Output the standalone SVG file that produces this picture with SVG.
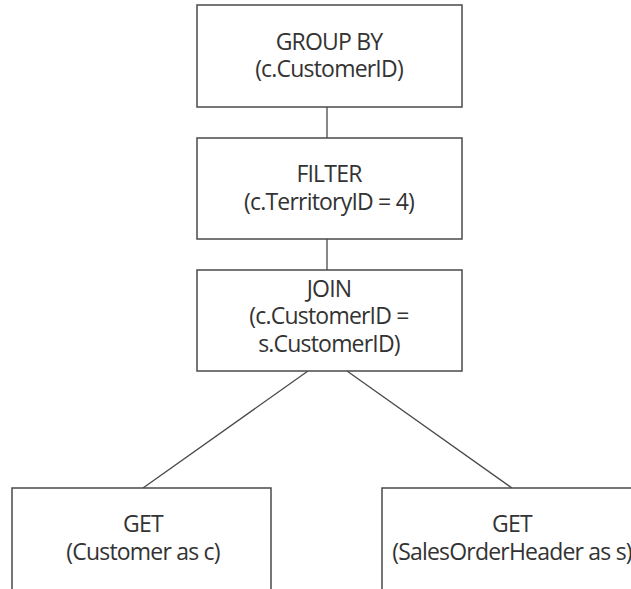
<svg xmlns="http://www.w3.org/2000/svg" width="631" height="589" viewBox="0 0 631 589">
<style>
.box{fill:#fff;stroke:#4a4a4a;stroke-width:1.5}
.t{font-family:"Open Sans","Noto Sans",sans-serif;font-size:23px;fill:#333;text-anchor:middle;letter-spacing:-0.8px}
.c{stroke:#4a4a4a;stroke-width:1.3;fill:none}
</style>
<rect width="631" height="589" fill="#fff"/>
<g id="connectors">
<line class="c" x1="327" y1="107" x2="327" y2="138"/>
<line class="c" x1="327" y1="239" x2="327" y2="270"/>
<line class="c" x1="308" y1="371" x2="143" y2="488"/>
<line class="c" x1="347" y1="371" x2="512" y2="488"/>
</g>
<g id="groupby">
<rect class="box" x="197" y="5" width="265" height="102"/>
<text class="t" x="329" y="50">GROUP BY</text>
<text class="t" x="329" y="77">(c.CustomerID)</text>
</g>
<g id="filter">
<rect class="box" x="197" y="138" width="265" height="101"/>
<text class="t" x="329" y="182">FILTER</text>
<text class="t" x="329" y="210">(c.TerritoryID = 4)</text>
</g>
<g id="join">
<rect class="box" x="197" y="270" width="265" height="101"/>
<text class="t" x="329" y="297">JOIN</text>
<text class="t" x="329" y="324">(c.CustomerID =</text>
<text class="t" x="329" y="352">s.CustomerID)</text>
</g>
<g id="get-customer">
<rect class="box" x="12" y="488" width="259" height="110"/>
<text class="t" x="143" y="532">GET</text>
<text class="t" x="143" y="560">(Customer as c)</text>
</g>
<g id="get-salesorderheader">
<rect class="box" x="382" y="488" width="270" height="110"/>
<text class="t" x="512" y="532">GET</text>
<text class="t" x="512" y="560">(SalesOrderHeader as s)</text>
</g>
</svg>
